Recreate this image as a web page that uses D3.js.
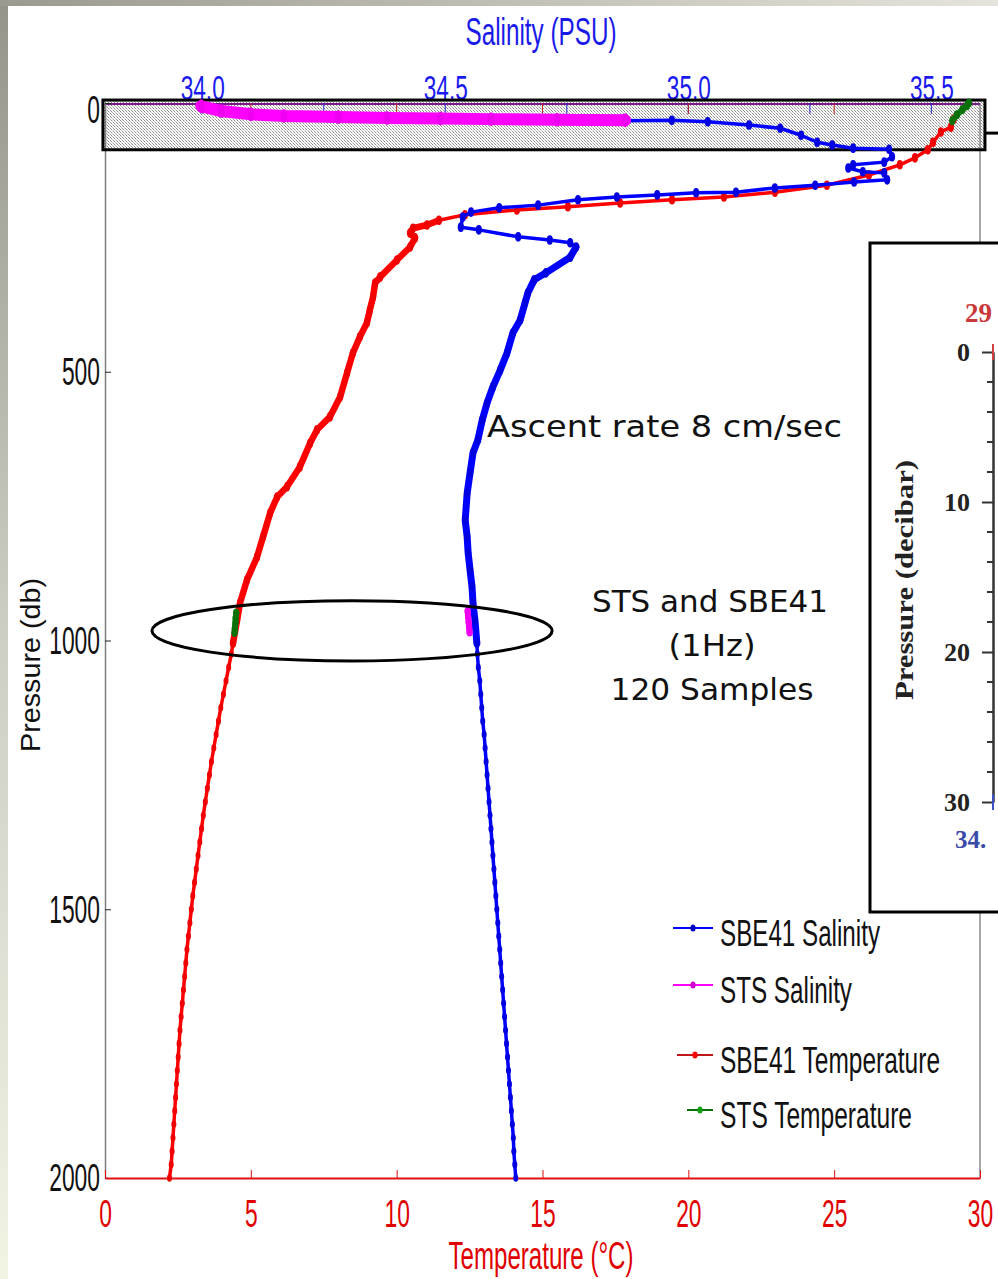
<!DOCTYPE html>
<html><head><meta charset="utf-8">
<script src="https://cdn.jsdelivr.net/npm/d3@7"></script>
<style>body{margin:0;background:#fff;}svg{display:block}</style>
</head><body>
<svg id="c" width="998" height="1279"></svg>
<script>
// ---------------- DATA ----------------
const temperatureTicks = [0, 5, 10, 15, 20, 25, 30];
const salinityTicks = [34.0, 34.5, 35.0, 35.5];
const salinityMinorTicks = [34.25, 34.75, 35.25];
const pressureTicks = [0, 500, 1000, 1500, 2000];
const insetTicks = [0, 10, 20, 30];
const insetMinorTicks = [2, 4, 6, 8, 12, 14, 16, 18, 22, 24, 26, 28];

// SBE41 temperature: [°C, dbar]
const sbe41Temperature = [
 [29.1,30],[29.0,45],[28.66,54],[28.39,73],[28.21,87],[27.77,102],[27.25,115],[26.19,134],[24.75,153],
 [22.97,166],[21.22,175],[19.44,180],[17.66,186],[15.87,193],[14.12,199],[12.34,208],[11.45,218],
 [11.04,227],[10.56,233],[10.46,242],[10.63,251],[10.46,268],[10.01,292],[9.43,324],[9.26,335],
 [9.19,361],[9.08,385],[8.98,409],[8.74,435],[8.50,465],[8.30,502],[8.06,547],[7.71,584],[7.27,608],
 [7.03,633],[6.68,677],[6.24,714],[5.90,733],[5.66,763],[5.42,807],[5.21,845],[4.87,887],[4.63,930],
 [4.53,962],[4.39,1005],[4.33,1025],[4.24,1050],[4.15,1075],[4.06,1100],[3.97,1125],[3.89,1150],
 [3.81,1175],[3.73,1200],[3.65,1225],[3.58,1250],[3.51,1275],[3.44,1300],[3.37,1325],[3.31,1350],
 [3.25,1375],[3.19,1400],[3.13,1425],[3.07,1450],[3.01,1475],[2.96,1500],[2.91,1525],[2.86,1550],
 [2.81,1575],[2.77,1600],[2.73,1625],[2.69,1650],[2.65,1675],[2.61,1700],[2.57,1725],[2.54,1750],
 [2.51,1775],[2.48,1800],[2.45,1825],[2.42,1850],[2.39,1875],[2.36,1900],[2.33,1925],[2.30,1950],
 [2.27,1975],[2.21,2000]
];

// SBE41 salinity: [PSU, dbar]
const sbe41Salinity = [
 [34.870,33],[34.966,32],[35.040,35],[35.125,41],[35.189,47],[35.232,60],[35.265,73],[35.296,78],
 [35.339,84],[35.413,86],[35.419,100],[35.403,110],[35.339,115],[35.329,121],[35.359,128],[35.403,130],
 [35.409,143],[35.341,147],[35.261,153],[35.178,158],[35.098,166],[35.016,167],[34.936,171],[34.853,175],
 [34.773,180],[34.691,190],[34.611,195],[34.553,203],[34.536,212],[34.532,231],[34.569,236],[34.650,249],
 [34.715,255],[34.757,260],[34.769,268],[34.757,287],[34.707,316],[34.683,329],[34.670,353],[34.664,372],
 [34.654,404],[34.639,428],[34.627,465],[34.613,497],[34.598,528],[34.586,558],[34.576,590],[34.567,627],
 [34.557,651],[34.551,688],[34.545,726],[34.541,776],[34.545,807],[34.547,837],[34.551,869],[34.555,900],
 [34.557,930],[34.561,962],[34.565,1005],[34.566,1025],[34.568,1050],[34.571,1075],[34.573,1100],
 [34.575,1125],[34.577,1150],[34.580,1175],[34.582,1200],[34.584,1225],[34.586,1250],[34.588,1275],
 [34.590,1300],[34.592,1325],[34.594,1350],[34.596,1375],[34.598,1400],[34.600,1425],[34.602,1450],
 [34.604,1475],[34.606,1500],[34.608,1525],[34.610,1550],[34.612,1575],[34.614,1600],[34.616,1625],
 [34.618,1650],[34.620,1675],[34.622,1700],[34.624,1725],[34.626,1750],[34.628,1775],[34.630,1800],
 [34.632,1825],[34.634,1850],[34.636,1875],[34.638,1900],[34.640,1925],[34.641,1950],[34.643,1975],
 [34.645,2000]
];

// STS salinity (surface burst and deep burst): [PSU, dbar]
const stsSalinitySurface = [[33.998,6],[34.039,15],[34.100,21],[34.168,24],[34.280,26],[34.380,28],[34.490,29],[34.594,30],[34.730,31],[34.870,32]];
const stsSalinityDeep = [[34.546,945],[34.547,955],[34.548,965],[34.549,975],[34.550,985]];
// STS temperature (surface and deep): [°C, dbar]
const stsTemperatureSurface = [[29.62,0],[29.55,5],[29.40,12],[29.21,22],[29.05,33]];
const stsTemperatureDeep = [[4.50,948],[4.48,958],[4.47,968],[4.45,978],[4.44,986]];

const legendItems = ["SBE41 Salinity", "STS Salinity", "SBE41 Temperature", "STS Temperature"];
const legendLine = ["#0000ff", "#ff00ff", "#c01818", "#0a6e0a"];
const legendDot = ["#0000c0", "#d000d0", "#ff0000", "#10a010"];

// annotation regions, in data units
const highlightBox = {t0: -0.07, t1: 30.17, p0: -5.5, p1: 87};
const ellipseNote = {t: 8.47, p: 982, dt: 6.86, dp: 56};

// ---------------- DRAW ----------------
const W = 998, H = 1279;
const svg = d3.select("#c");
const NARROW = "'Liberation Sans Narrow','Arial Narrow','Liberation Sans',Arial,sans-serif";
const defs = svg.append("defs");

const lg = defs.append("linearGradient").attr("id", "lstrip").attr("x1", 0).attr("y1", 0).attr("x2", 0).attr("y2", 1);
lg.append("stop").attr("offset", 0).attr("stop-color", "#94948a");
lg.append("stop").attr("offset", 0.5).attr("stop-color", "#cdcec4");
lg.append("stop").attr("offset", 1).attr("stop-color", "#f1f3e3");
const tg = defs.append("linearGradient").attr("id", "tstrip").attr("x1", 0).attr("y1", 0).attr("x2", 1).attr("y2", 0);
tg.append("stop").attr("offset", 0).attr("stop-color", "#9a9a8e");
tg.append("stop").attr("offset", 1).attr("stop-color", "#e4e4dc");
const pat = defs.append("pattern").attr("id", "dots").attr("width", 3).attr("height", 3).attr("patternUnits", "userSpaceOnUse");
pat.append("rect").attr("width", 3).attr("height", 3).attr("fill", "#fbfbfb");
pat.append("rect").attr("width", 1).attr("height", 1).attr("fill", "#8a8a8a");
pat.append("rect").attr("x", 1).attr("y", 1).attr("width", 1).attr("height", 1).attr("fill", "#c4c4c4");
pat.append("rect").attr("x", 2).attr("y", 2).attr("width", 1).attr("height", 1).attr("fill", "#9a9a9a");

svg.append("rect").attr("width", W).attr("height", H).attr("fill", "#fff");
svg.append("rect").attr("x", 0).attr("y", 0).attr("width", 8).attr("height", H).attr("fill", "url(#lstrip)");
svg.append("rect").attr("x", 0).attr("y", 0).attr("width", W).attr("height", 6).attr("fill", "url(#tstrip)");

const xT = d3.scaleLinear().domain([0, 30]).range([105, 980]);
const xS = d3.scaleLinear().domain([33.8, 35.6]).range([105, 980]);
const yP = d3.scaleLinear().domain([0, 2000]).range([103, 1178]);

function numWidth(s) { let w = 0; for (const c of s) w += (c === ".") ? 6.3 : 12.7; return w; }

// highlight box fill
svg.append("rect")
  .attr("x", xT(highlightBox.t0)).attr("y", yP(highlightBox.p0))
  .attr("width", xT(highlightBox.t1) - xT(highlightBox.t0))
  .attr("height", yP(highlightBox.p1) - yP(highlightBox.p0))
  .attr("fill", "url(#dots)");

// frame lines
svg.append("line").attr("x1", xT(30)).attr("x2", xT(30)).attr("y1", yP(0)).attr("y2", yP(2000)).attr("stroke", "#8a8a8a").attr("stroke-width", 1.5);
svg.append("line").attr("x1", xT(0)).attr("x2", xT(30)).attr("y1", yP(0) + 1).attr("y2", yP(0) + 1).attr("stroke", "#7a1a8a").attr("stroke-width", 2);

// top minor ticks (salinity blue, temperature red)
svg.append("g").selectAll("line").data(salinityTicks.concat(salinityMinorTicks)).join("line")
  .attr("x1", d => xS(d)).attr("x2", d => xS(d)).attr("y1", yP(0)).attr("y2", yP(0) + 11)
  .attr("stroke", "#2a2ad0").attr("stroke-width", 1);
svg.append("g").selectAll("line").data(temperatureTicks.slice(1, -1)).join("line")
  .attr("x1", d => xT(d)).attr("x2", d => xT(d)).attr("y1", yP(0)).attr("y2", yP(0) + 11)
  .attr("stroke", "#c02020").attr("stroke-width", 1);

// left axis
const gL = svg.append("g").attr("transform", `translate(${xT(0)},0)`)
  .call(d3.axisLeft(yP).tickValues(pressureTicks).tickFormat(d3.format("d")).tickSizeInner(-6).tickSizeOuter(0).tickPadding(5));
gL.select(".domain").attr("stroke", "#7f7f7f").attr("stroke-width", 1.5);
gL.selectAll(".tick line").attr("stroke", "#222");
gL.selectAll(".tick text").attr("font-family", NARROW).attr("font-size", 38).attr("fill", "#111")
  .attr("dy", d => d === 0 ? "0.52em" : "0.34em")
  .attr("textLength", d => numWidth(String(d))).attr("lengthAdjust", "spacingAndGlyphs");

// bottom axis
const gB = svg.append("g").attr("transform", `translate(0,${yP(2000)})`)
  .call(d3.axisBottom(xT).tickValues(temperatureTicks).tickSizeInner(-8).tickSizeOuter(0).tickPadding(22));
gB.select(".domain").attr("stroke", "#e01010").attr("stroke-width", 2);
gB.selectAll(".tick line").attr("stroke", "#e01010");
gB.selectAll(".tick text").attr("font-family", NARROW).attr("font-size", 38).attr("fill", "#e00000")
  .attr("textLength", d => numWidth(String(d))).attr("lengthAdjust", "spacingAndGlyphs");

// top axis (salinity labels)
const gT = svg.append("g").attr("transform", `translate(0,${yP(0)})`)
  .call(d3.axisTop(xS).tickValues(salinityTicks).tickFormat(d3.format(".1f")).tickSizeInner(0).tickSizeOuter(0).tickPadding(3));
gT.select(".domain").remove();
gT.selectAll(".tick line").remove();
gT.selectAll(".tick text").attr("font-family", NARROW).attr("font-size", 35).attr("fill", "#1a1af0")
  .attr("textLength", 44).attr("lengthAdjust", "spacingAndGlyphs");

// axis titles
svg.append("text").attr("x", 541).attr("y", 45).attr("text-anchor", "middle")
  .attr("font-family", NARROW).attr("font-size", 38).attr("fill", "#1a1ae8")
  .attr("textLength", 151).attr("lengthAdjust", "spacingAndGlyphs").text("Salinity (PSU)");
svg.append("text").attr("x", 541).attr("y", 1269).attr("text-anchor", "middle")
  .attr("font-family", NARROW).attr("font-size", 38).attr("fill", "#e00000")
  .attr("textLength", 185).attr("lengthAdjust", "spacingAndGlyphs").text("Temperature (°C)");
svg.append("text").attr("transform", "translate(40,665) rotate(-90)").attr("text-anchor", "middle")
  .attr("font-family", "'Liberation Sans',Arial,sans-serif").attr("font-size", 27).attr("fill", "#111")
  .attr("textLength", 174).attr("lengthAdjust", "spacingAndGlyphs").text("Pressure (db)");

// highlight box border + connector
svg.append("rect")
  .attr("x", xT(highlightBox.t0)).attr("y", yP(highlightBox.p0))
  .attr("width", xT(highlightBox.t1) - xT(highlightBox.t0))
  .attr("height", yP(highlightBox.p1) - yP(highlightBox.p0))
  .attr("fill", "none").attr("stroke", "#000").attr("stroke-width", 3);
svg.append("line").attr("x1", xT(highlightBox.t1)).attr("x2", W).attr("y1", yP(56)).attr("y2", yP(56))
  .attr("stroke", "#000").attr("stroke-width", 3);

// series drawing
const lineT = d3.line().x(d => xT(d[0])).y(d => yP(d[1]));
const lineS = d3.line().x(d => xS(d[0])).y(d => yP(d[1]));
function series(data, gen, xs, color, dotColor, width, thickRange, thickWidth, rx, ry) {
  const g = svg.append("g");
  g.append("path").datum(data).attr("d", gen).attr("fill", "none").attr("stroke", color)
    .attr("stroke-width", width).attr("stroke-linejoin", "round").attr("stroke-linecap", "round");
  if (thickRange) {
    g.append("path").datum(data.filter(d => d[1] >= thickRange[0] && d[1] <= thickRange[1])).attr("d", gen)
      .attr("fill", "none").attr("stroke", color).attr("stroke-width", thickWidth)
      .attr("stroke-linejoin", "round").attr("stroke-linecap", "round");
  }
  g.selectAll("ellipse").data(data).join("ellipse")
    .attr("cx", d => xs(d[0])).attr("cy", d => yP(d[1]))
    .attr("rx", d => d[1] < 1010 ? rx + 0.6 : rx).attr("ry", d => d[1] < 1010 ? ry + 1 : ry).attr("fill", dotColor);
}
series(sbe41Temperature, lineT, xT, "#ff0000", "#f00000", 3.5, [216, 1005], 6.5, 2.5, 3.8);
series(sbe41Salinity, lineS, xS, "#0000ff", "#0000e0", 3.5, [262, 1005], 7, 2.5, 3.8);
series(stsSalinitySurface, lineS, xS, "#ff00ff", "#f000f0", 12, null, 0, 3, 6);
series(stsSalinityDeep, lineS, xS, "#ff00ff", "#f000f0", 6, null, 0, 2.5, 3);
series(stsTemperatureSurface, lineT, xT, "#108010", "#0a700a", 6, null, 0, 2.5, 3.5);
series(stsTemperatureDeep, lineT, xT, "#108010", "#0a700a", 6, null, 0, 2.5, 3);

// ellipse annotation
svg.append("ellipse")
  .attr("cx", xT(ellipseNote.t)).attr("cy", yP(ellipseNote.p))
  .attr("rx", xT(ellipseNote.t + ellipseNote.dt) - xT(ellipseNote.t))
  .attr("ry", yP(ellipseNote.p + ellipseNote.dp) - yP(ellipseNote.p))
  .attr("fill", "none").attr("stroke", "#000").attr("stroke-width", 3);

// annotations
const ANN = "'DejaVu Sans',Verdana,sans-serif";
svg.append("text").attr("x", 487).attr("y", 437).attr("font-family", ANN).attr("font-size", 31).attr("fill", "#111")
  .attr("textLength", 355).attr("lengthAdjust", "spacingAndGlyphs").text("Ascent rate 8 cm/sec");
[["STS and SBE41", 710, 612, 236], ["(1Hz)", 712, 656, 87], ["120 Samples", 712, 700, 203]].forEach(a => {
  svg.append("text").attr("x", a[1]).attr("y", a[2]).attr("text-anchor", "middle").attr("font-family", ANN)
    .attr("font-size", 31).attr("fill", "#111").attr("textLength", a[3]).attr("lengthAdjust", "spacingAndGlyphs").text(a[0]);
});

// legend
const legY = [928, 985, 1055, 1110];
const legX0 = [673, 673, 677, 687];
const legW = [160, 132, 220, 192];
legendItems.forEach((name, i) => {
  const g = svg.append("g");
  g.append("line").attr("x1", legX0[i]).attr("x2", 713).attr("y1", legY[i]).attr("y2", legY[i])
    .attr("stroke", legendLine[i]).attr("stroke-width", 2);
  g.append("ellipse").attr("cx", (legX0[i] + 713) / 2).attr("cy", legY[i]).attr("rx", 2.6).attr("ry", 3.5).attr("fill", legendDot[i]);
  g.append("text").attr("x", 720).attr("y", legY[i] + 18).attr("font-family", NARROW).attr("font-size", 36)
    .attr("fill", "#111").attr("textLength", legW[i]).attr("lengthAdjust", "spacingAndGlyphs").text(name);
});

// inset (zoomed view image)
const SERIF = "'Liberation Serif','Times New Roman',serif";
const inset = svg.append("g");
inset.append("rect").attr("x", 870).attr("y", 243).attr("width", 160).attr("height", 669)
  .attr("fill", "#fff").attr("stroke", "#000").attr("stroke-width", 3);
const yIn = d3.scaleLinear().domain([0, 30]).range([352, 802]);
const gi = inset.append("g").attr("transform", "translate(993,0)")
  .call(d3.axisLeft(yIn).tickValues(insetTicks).tickSizeInner(11).tickSizeOuter(0).tickPadding(12));
gi.select(".domain").attr("stroke", "#333").attr("stroke-width", 2.5);
gi.selectAll(".tick line").attr("stroke", "#333").attr("stroke-width", 2);
gi.selectAll(".tick text").attr("font-family", SERIF).attr("font-weight", "bold").attr("font-size", 26).attr("fill", "#222");
inset.append("g").selectAll("line").data(insetMinorTicks).join("line")
  .attr("x1", 987).attr("x2", 993).attr("y1", d => yIn(d)).attr("y2", d => yIn(d)).attr("stroke", "#333").attr("stroke-width", 2);
inset.append("line").attr("x1", 993).attr("x2", 993).attr("y1", yIn(0) - 8).attr("y2", yIn(0) + 8).attr("stroke", "#d04040").attr("stroke-width", 2);
inset.append("line").attr("x1", 993).attr("x2", 993).attr("y1", yIn(30) - 8).attr("y2", yIn(30) + 8).attr("stroke", "#4050c0").attr("stroke-width", 2);
inset.append("text").attr("x", 965).attr("y", 322).attr("font-family", SERIF).attr("font-weight", "bold")
  .attr("font-size", 27).attr("fill", "#c83a3a").text("29");
inset.append("text").attr("x", 955).attr("y", 848).attr("font-family", SERIF).attr("font-weight", "bold")
  .attr("font-size", 25).attr("fill", "#3a4aa8").text("34.");
inset.append("text").attr("transform", "translate(913,580) rotate(-90)").attr("text-anchor", "middle")
  .attr("font-family", SERIF).attr("font-weight", "bold").attr("font-size", 25).attr("fill", "#222")
  .attr("textLength", 240).attr("lengthAdjust", "spacingAndGlyphs").text("Pressure (decibar)");
</script>
</body></html>
